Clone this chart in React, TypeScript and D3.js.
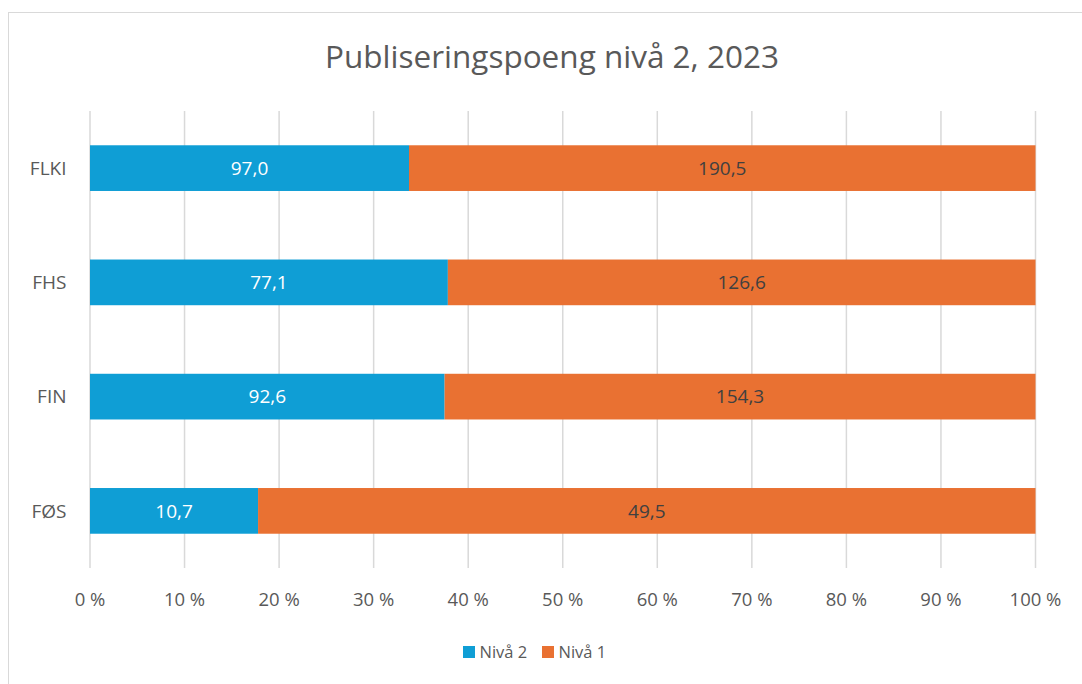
import React from "react";
import * as d3 from "d3";

const categories = ["FLKI", "FHS", "FIN", "FØS"];
const niva2 = [97.0, 77.1, 92.6, 10.7];
const niva1 = [190.5, 126.6, 154.3, 49.5];
const seriesNames = ["Nivå 2", "Nivå 1"];
const seriesColors = ["#0F9ED5", "#E97132"];
const labelColors = ["#FFFFFF", "#404040"];
const xTicks = [0, 0.1, 0.2, 0.3, 0.4, 0.5, 0.6, 0.7, 0.8, 0.9, 1.0];
const title = "Publiseringspoeng nivå 2, 2023";

const W = 1082;
const H = 684;
const FONT = "'Open Sans', 'Liberation Sans', sans-serif";

export default function App() {
  const x = d3.scaleLinear().domain([0, 1]).range([90, 1035.5]);
  const y = d3.scaleBand<string>().domain(categories).range([111, 568]).paddingInner(0.6).paddingOuter(0.3);
  const fmt = (v: number) => v.toFixed(1).replace(".", ",");
  const rows = categories.map((c, i) => {
    const vals = [niva2[i], niva1[i]];
    const total = vals[0] + vals[1];
    let acc = 0;
    return vals.map((v, s) => {
      const x0 = acc / total;
      acc += v;
      const x1 = acc / total;
      return { c, s, v, x0, x1 };
    });
  });
  return (
    <svg width={W} height={H} style={{ position: "absolute", left: 0, top: 0, background: "#fff" }} fontFamily={FONT}>
      <rect x={8.5} y={12.5} width={W + 10} height={H} fill="#fff" stroke="#d9d9d9" strokeWidth={1} />
      <text x={552} y={68} textAnchor="middle" fontSize={31.5} fill="#595959">{title}</text>
      {xTicks.map((t) => (
        <line key={t} x1={x(t)} x2={x(t)} y1={111} y2={568} stroke="#d9d9d9" strokeWidth={1.5} />
      ))}
      {rows.flat().map((d) => (
        <rect key={d.c + d.s} x={x(d.x0)} width={x(d.x1) - x(d.x0)} y={y(d.c)} height={y.bandwidth()} fill={seriesColors[d.s]} />
      ))}
      {rows.flat().map((d) => (
        <text key={"l" + d.c + d.s} x={(x(d.x0) + x(d.x1)) / 2} y={(y(d.c) as number) + y.bandwidth() / 2} dy="0.35em" textAnchor="middle" fontSize={19} fill={labelColors[d.s]}>{fmt(d.v)}</text>
      ))}
      {categories.map((c) => (
        <text key={c} x={66.5} y={(y(c) as number) + y.bandwidth() / 2} dy="0.35em" textAnchor="end" fontSize={19} fill="#595959">{c}</text>
      ))}
      {xTicks.map((t) => (
        <text key={"t" + t} x={x(t)} y={600} dy="0.35em" textAnchor="middle" fontSize={18.5} fill="#595959">{Math.round(t * 100) + " %"}</text>
      ))}
      {seriesNames.map((n, i) => {
        const lx = [463, 542][i];
        return (
          <g key={n}>
            <rect x={lx} y={646} width={12} height={12} fill={seriesColors[i]} />
            <text x={lx + 16.5} y={652} dy="0.35em" fontSize={16.5} fill="#595959">{n}</text>
          </g>
        );
      })}
    </svg>
  );
}
